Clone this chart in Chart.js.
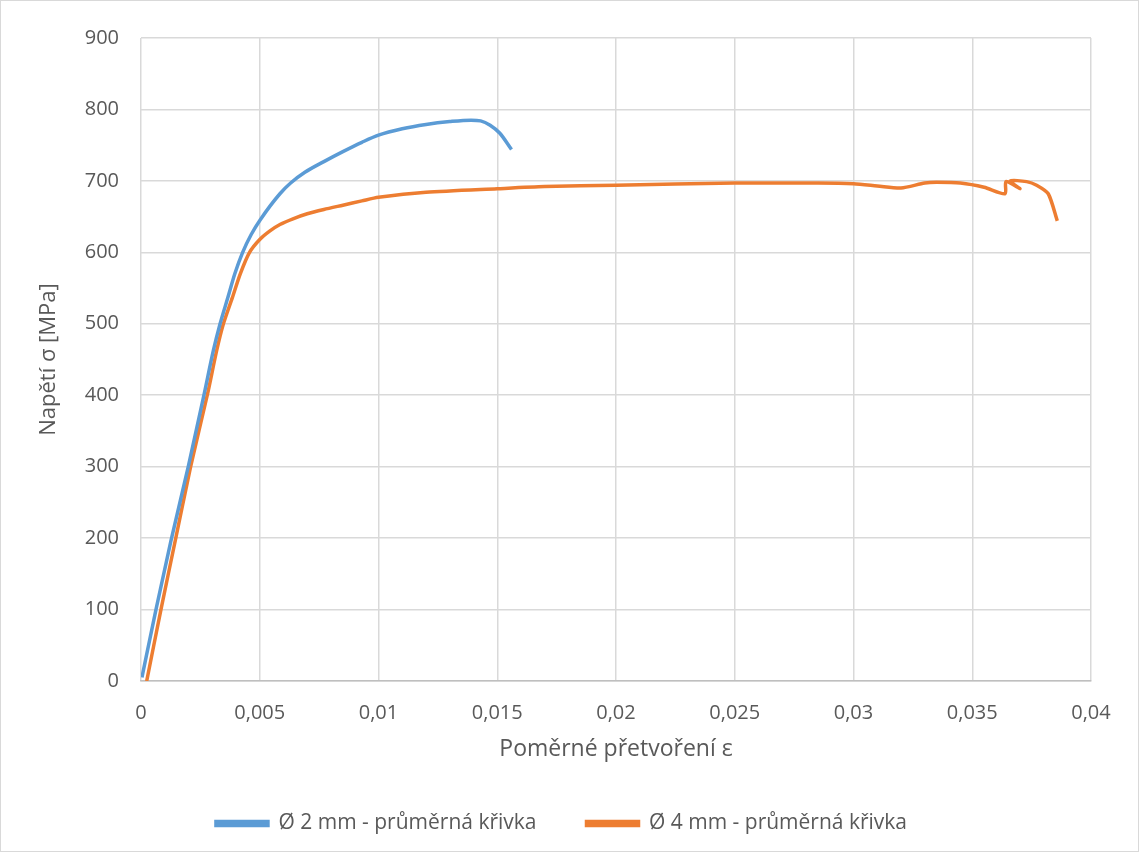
<!DOCTYPE html>
<html lang="cs">
<head>
  <meta charset="UTF-8" />
  <title>Napětí - poměrné přetvoření</title>
  <script src="https://cdn.jsdelivr.net/npm/chart.js"></script>
  <style>
    html, body {
      margin: 0;
      padding: 0;
      background: #fff;
    }
    .chart-container {
      position: relative;
      width: 1139px;
      height: 852px;
    }
  </style>
</head>
<body>
  <div class="chart-container">
    <canvas id="stressChart"></canvas>
  </div>

  <script>
    // Ø 2 mm - average curve
    const strain2mm = [0.00004, 0.00063, 0.00126, 0.00199, 0.00265, 0.00305, 0.00333, 0.00366, 0.00395, 0.00428,
      0.00464, 0.00503, 0.00585, 0.0063, 0.0069, 0.0077, 0.0085, 0.0093, 0.01, 0.011, 0.012, 0.013,
      0.0139, 0.0143, 0.0147, 0.0151, 0.0156];
    const stress2mm = [5, 100, 196, 300, 400, 463, 500, 537, 570, 600,
      625, 646, 682, 697, 712, 727, 741, 754, 764, 773, 779, 783,
      785, 784, 778, 767, 744];

    // Ø 4 mm - average curve
    const strain4mm = [0.00024, 0.00084, 0.00144, 0.00209, 0.00279, 0.00319, 0.00347, 0.00385, 0.00418, 0.00457,
      0.005, 0.00543, 0.00585, 0.0064, 0.007, 0.0077, 0.0085, 0.0093, 0.01, 0.012, 0.015, 0.017, 0.02,
      0.025, 0.0285, 0.03, 0.031, 0.032, 0.033, 0.0335, 0.0345, 0.0355, 0.03638, 0.03642, 0.03701, 0.0366,
      0.03729, 0.03771, 0.0382, 0.03858];
    const stress4mm = [0, 100, 196, 300, 400, 463, 500, 537, 570, 600,
      618, 630, 639, 647, 654, 660, 666, 672, 677, 684, 689, 692, 694,
      697, 697, 696, 693, 690, 697, 698, 697, 691, 682, 699, 689, 700,
      699, 694, 682, 644];

    const xTicks = [0, 0.005, 0.01, 0.015, 0.02, 0.025, 0.03, 0.035, 0.04];
    const yTicks = [0, 100, 200, 300, 400, 500, 600, 700, 800, 900];

    const toPoints = (xs, ys) => xs.map((x, i) => ({ x: x, y: ys[i] }));
    const fmt = v => parseFloat(v.toFixed(4)).toString().replace('.', ',');

    const textColor = '#595959';
    const gridColor = '#d9d9d9';
    const fontFamily = "'Open Sans', sans-serif";

    // white background + thin outer frame like the Excel chart
    const frame = {
      id: 'frame',
      beforeDraw(chart) {
        const ctx = chart.ctx;
        ctx.save();
        ctx.fillStyle = '#fff';
        ctx.fillRect(0, 0, chart.width, chart.height);
        ctx.strokeStyle = '#d9d9d9';
        ctx.lineWidth = 1;
        ctx.strokeRect(0.5, 0.5, chart.width - 1, chart.height - 1);
        ctx.restore();
      }
    };

    new Chart(document.getElementById('stressChart').getContext('2d'), {
      type: 'scatter',
      data: {
        datasets: [
          {
            label: 'Ø 2 mm - průměrná křivka',
            data: toPoints(strain2mm, stress2mm),
            borderColor: '#5b9bd5',
            backgroundColor: '#5b9bd5',
            showLine: true,
            borderWidth: 3.5,
            pointRadius: 0,
            cubicInterpolationMode: 'monotone'
          },
          {
            label: 'Ø 4 mm - průměrná křivka',
            data: toPoints(strain4mm, stress4mm),
            borderColor: '#ed7d31',
            backgroundColor: '#ed7d31',
            showLine: true,
            borderWidth: 3.5,
            pointRadius: 0,
            tension: 0.25
          }
        ]
      },
      options: {
        responsive: true,
        maintainAspectRatio: false,
        animation: false,
        layout: { padding: { top: 38, right: 48, bottom: 8, left: 32 } },
        scales: {
          x: {
            type: 'linear',
            min: 0,
            max: 0.04,
            afterBuildTicks: scale => { scale.ticks = xTicks.map(v => ({ value: v })); },
            afterFit: scale => { scale.height = 82; },
            ticks: {
              color: textColor,
              font: { family: fontFamily, size: 20 },
              padding: 20,
              maxRotation: 0,
              callback: v => fmt(v)
            },
            grid: { color: gridColor, lineWidth: 1.5, drawTicks: false },
            border: { color: '#bfbfbf', width: 1.5 },
            title: {
              display: true,
              text: 'Poměrné přetvoření ε',
              color: textColor,
              font: { family: fontFamily, size: 23 },
              padding: { top: 8, bottom: 0 }
            }
          },
          y: {
            min: 0,
            max: 900,
            afterBuildTicks: scale => { scale.ticks = yTicks.map(v => ({ value: v })); },
            afterFit: scale => { scale.width = 109; },
            ticks: {
              color: textColor,
              font: { family: fontFamily, size: 20 },
              padding: 22
            },
            grid: { color: gridColor, lineWidth: 1.5, drawTicks: false },
            border: { display: false },
            title: {
              display: true,
              text: 'Napětí σ [MPa]',
              color: textColor,
              font: { family: fontFamily, size: 22 }
            }
          }
        },
        plugins: {
          legend: {
            position: 'bottom',
            labels: {
              color: textColor,
              font: { family: fontFamily, size: 21 },
              boxWidth: 52,
              boxHeight: 4,
              padding: 50
            }
          },
          tooltip: { enabled: false }
        }
      },
      plugins: [frame]
    });
  </script>
</body>
</html>
